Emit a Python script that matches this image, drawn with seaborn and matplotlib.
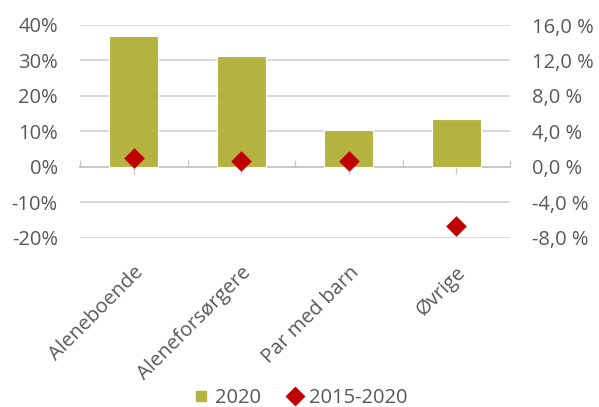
import matplotlib
matplotlib.use("Agg")
import matplotlib.pyplot as plt
from matplotlib.lines import Line2D
from matplotlib.ticker import FuncFormatter, FixedLocator
import seaborn as sns

# Household types and their values
categories = ["Aleneboende", "Aleneforsørgere", "Par med barn", "Øvrige"]
share_2020 = [37.0, 31.2, 10.3, 13.6]          # left axis, percent
change_2015_2020 = [1.0, 0.7, 0.6, -6.7]       # right axis, percent

left_ticks = [-20, -10, 0, 10, 20, 30, 40]
right_ticks = [-8.0, -4.0, 0.0, 4.0, 8.0, 12.0, 16.0]

OLIVE = "#B5B33F"
RED = "#C00000"
TEXT = "#595959"
GRID = "#D9D9D9"
AXIS = "#C8C8C8"

sns.set_theme(style="white")
plt.rcParams["font.family"] = ["Open Sans", "DejaVu Sans"]

fig = plt.figure(figsize=(5.99, 4.07), dpi=100)
ax = fig.add_axes([80 / 599, 1 - 237.7 / 407, 430 / 599, (237.7 - 25) / 407])
ax2 = ax.twinx()

sns.barplot(x=categories, y=share_2020, ax=ax, color=OLIVE, saturation=1,
            width=0.46, edgecolor="white", linewidth=0.8, zorder=2)
sns.stripplot(x=categories, y=change_2015_2020, ax=ax2, jitter=False,
              marker="D", size=10.5, color=RED, linewidth=0, zorder=3)

ax.set_xlim(-0.5, len(categories) - 0.5)
ax.set_ylim(left_ticks[0], left_ticks[-1])
ax2.set_ylim(right_ticks[0], right_ticks[-1])

# Gridlines on the left scale (zero line is the category axis)
ax.yaxis.set_major_locator(FixedLocator(left_ticks))
for v in left_ticks:
    if v != 0:
        ax.axhline(v, color=GRID, lw=1.4, zorder=0)
ax.grid(False)
ax2.grid(False)

ax.yaxis.set_major_formatter(FuncFormatter(lambda v, p: f"{v:.0f}%"))
ax2.yaxis.set_major_locator(FixedLocator(right_ticks))
ax2.yaxis.set_major_formatter(
    FuncFormatter(lambda v, p: f"{v:.1f} %".replace(".", ",")))

ax.tick_params(axis="y", length=0, pad=16, labelsize=14.5, labelcolor=TEXT)
ax2.tick_params(axis="y", length=0, pad=16, labelsize=14.5, labelcolor=TEXT)

for a in (ax, ax2):
    for s in a.spines.values():
        s.set_visible(False)
    a.set_xlabel("")
    a.set_ylabel("")

# Category labels below the plot
ax.set_xticks(range(len(categories)))
ax.set_xticklabels(categories, rotation=45, ha="right", va="top",
                   rotation_mode="anchor")
ax.tick_params(axis="x", length=0, pad=18, labelsize=14.5, labelcolor=TEXT)
ax2.tick_params(axis="x", length=0, labelbottom=False)

# Category axis line at zero with tick marks
y0 = (0 - left_ticks[0]) / (left_ticks[-1] - left_ticks[0])
sec = ax.secondary_xaxis(y0)
sec.set_xticks([i - 0.5 for i in range(len(categories) + 1)])
sec.set_xticks(list(range(len(categories))), minor=True)
sec.tick_params(which="major", direction="in", length=5, width=1, color=AXIS,
                labelbottom=False)
sec.tick_params(which="minor", direction="out", length=5, width=1, color=AXIS,
                labelbottom=False)
sec.spines["bottom"].set_color(AXIS)
sec.spines["bottom"].set_linewidth(1.4)
for k in ("top", "left", "right"):
    sec.spines[k].set_visible(False)

handles = [
    Line2D([], [], marker="s", color=OLIVE, ls="", markersize=7),
    Line2D([], [], marker="D", color=RED, ls="", markersize=9),
]
fig.legend(handles, ["2020", "2015-2020"], loc="center",
           bbox_to_anchor=(0.5, 1 - 398 / 407), ncol=2, frameon=False,
           fontsize=14.5, labelcolor=TEXT, handletextpad=0.2,
           columnspacing=1.2, handlelength=1.0)

fig.savefig("out.png", dpi=100)
